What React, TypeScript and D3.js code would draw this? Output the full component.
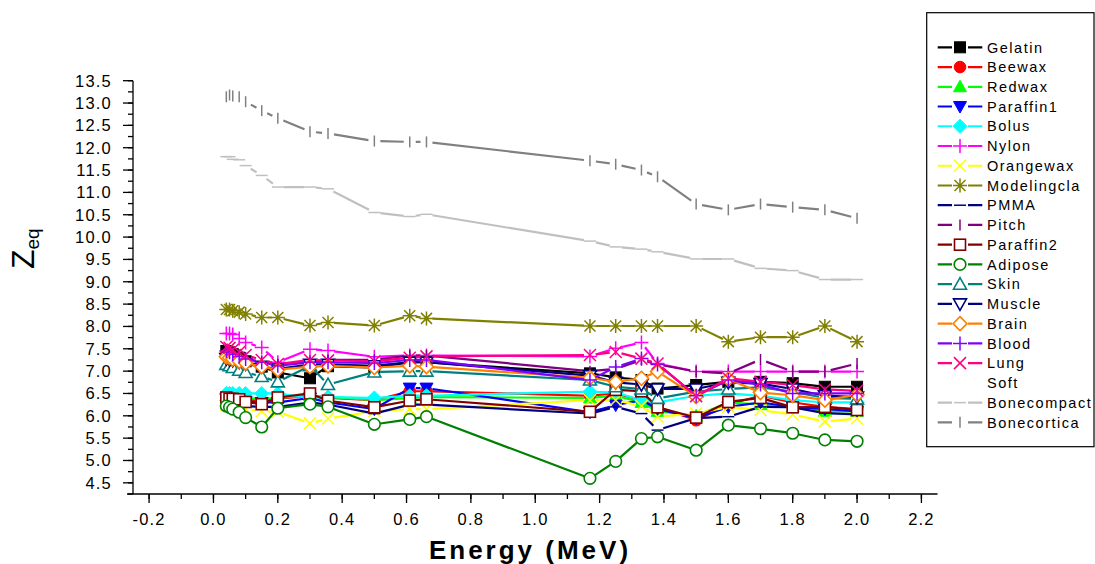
import React from 'react';
import * as d3 from 'd3';

// Photon energies (MeV)
const energy = [0.04, 0.05, 0.06, 0.08, 0.1, 0.15, 0.2, 0.3, 0.356, 0.5, 0.61, 0.662, 1.17, 1.25, 1.33, 1.38, 1.5, 1.6, 1.7, 1.8, 1.9, 2.0];

// Zeq values per material
const gelatin = [7.45, 7.42, 7.38, 7.3, 7.22, 7.1, 6.97, 6.84, 7.11, 7.08, 7.2, 7.2, 6.95, 6.86, 6.8, 6.61, 6.69, 6.76, 6.76, 6.73, 6.65, 6.65];
const beewax = [6.42, 6.42, 6.4, 6.38, 6.36, 6.33, 6.38, 6.45, 6.4, 6.35, 6.55, 6.55, 6.45, 6.5, 6.35, 6.2, 5.9, 6.25, 6.45, 6.3, 6.2, 6.15];
const redwax = [6.45, 6.45, 6.43, 6.42, 6.4, 6.38, 6.4, 6.45, 6.42, 6.35, 6.4, 6.42, 6.4, 6.45, 6.3, 6.1, 6.0, 6.3, 6.25, 6.2, 6.1, 6.1];
const paraffin1 = [6.38, 6.38, 6.36, 6.34, 6.32, 6.3, 6.3, 6.4, 6.3, 6.15, 6.62, 6.62, 6.08, 6.24, 6.35, 6.15, 5.95, 6.2, 6.3, 6.2, 6.15, 6.1];
const bolus = [6.5, 6.5, 6.5, 6.5, 6.5, 6.5, 6.5, 6.4, 6.42, 6.4, 6.45, 6.45, 6.54, 6.52, 6.35, 6.3, 6.45, 6.5, 6.45, 6.35, 6.3, 6.3];
const nylon = [7.84, 7.84, 7.82, 7.73, 7.64, 7.53, 7.2, 7.49, 7.46, 7.32, 7.35, 7.35, 7.33, 7.51, 7.64, 7.17, 6.99, 6.99, 6.99, 6.99, 6.99, 6.99];
const orangewax = [6.25, 6.22, 6.2, 6.18, 6.15, 6.1, 6.09, 5.83, 5.94, 6.1, 6.15, 6.15, 6.35, 6.35, 6.22, 5.98, 6.05, 6.2, 6.13, 6.03, 5.87, 5.94];
const modelingcla = [8.38, 8.38, 8.35, 8.32, 8.28, 8.2, 8.2, 8.02, 8.09, 8.02, 8.24, 8.18, 8.01, 8.01, 8.01, 8.01, 8.01, 7.66, 7.76, 7.76, 8.01, 7.66];
const pmma = [6.3, 6.3, 6.28, 6.25, 6.22, 6.2, 6.2, 6.3, 6.25, 6.05, 6.25, 6.25, 6.05, 6.2, 6.05, 5.68, 5.95, 5.98, 6.2, 6.19, 6.06, 6.03];
const pitch = [7.4, 7.38, 7.36, 7.32, 7.28, 7.2, 7.15, 7.2, 7.25, 7.25, 7.35, 7.35, 7.0, 7.05, 7.25, 7.15, 6.99, 6.95, 7.26, 6.99, 6.99, 7.17];
const paraffin2 = [6.41, 6.38, 6.38, 6.37, 6.31, 6.26, 6.41, 6.5, 6.34, 6.19, 6.34, 6.37, 6.09, 6.58, 6.55, 6.19, 5.96, 6.31, 6.4, 6.19, 6.2, 6.13];
const adipose = [6.22, 6.19, 6.15, 6.08, 5.96, 5.75, 6.17, 6.26, 6.2, 5.81, 5.92, 5.98, 4.6, 4.98, 5.49, 5.53, 5.23, 5.79, 5.71, 5.61, 5.46, 5.43];
const skin = [7.15, 7.12, 7.08, 7.02, 6.97, 6.88, 6.76, 7.12, 6.7, 6.98, 7.0, 7.0, 6.8, 6.65, 6.6, 6.39, 6.54, 6.6, 6.64, 6.54, 6.4, 6.38];
const muscle = [7.28, 7.26, 7.24, 7.2, 7.16, 7.1, 7.05, 7.15, 7.15, 7.12, 7.2, 7.2, 6.9, 6.75, 6.7, 6.6, 6.6, 6.75, 6.72, 6.6, 6.45, 6.42];
const brain = [7.32, 7.3, 7.27, 7.22, 7.18, 7.1, 7.03, 7.1, 7.12, 7.08, 7.12, 7.1, 6.85, 6.76, 6.84, 6.99, 6.43, 6.82, 6.52, 6.46, 6.35, 6.47];
const blood = [7.45, 7.42, 7.38, 7.33, 7.27, 7.2, 7.12, 7.2, 7.2, 7.18, 7.25, 7.25, 6.8, 7.09, 7.28, 7.15, 6.45, 6.8, 6.7, 6.5, 6.5, 6.5];
const lung = [7.54, 7.52, 7.48, 7.43, 7.36, 7.25, 7.16, 7.25, 7.24, 7.22, 7.3, 7.33, 7.36, 7.43, 7.28, 7.17, 6.44, 6.84, 6.76, 6.69, 6.59, 6.56];
const bonecompact = [11.8, 11.8, 11.74, 11.73, 11.6, 11.38, 11.12, 11.12, 11.08, 10.55, 10.46, 10.51, 9.91, 9.78, 9.73, 9.67, 9.51, 9.51, 9.3, 9.25, 9.05, 9.05];
const bonecortica = [13.14, 13.18, 13.16, 13.14, 13.03, 12.83, 12.66, 12.36, 12.32, 12.15, 12.13, 12.13, 11.71, 11.63, 11.5, 11.35, 10.74, 10.61, 10.74, 10.67, 10.61, 10.42];

const xTicks = [-0.2, 0, 0.2, 0.4, 0.6, 0.8, 1.0, 1.2, 1.4, 1.6, 1.8, 2.0, 2.2];
const yTicks = [4.5, 5, 5.5, 6, 6.5, 7, 7.5, 8, 8.5, 9, 9.5, 10, 10.5, 11, 11.5, 12, 12.5, 13, 13.5];

type Marker = 'square' | 'circle' | 'tri' | 'tridown' | 'diamond' | 'plus' | 'cross' | 'star' | 'hbar' | 'vbar' | 'none';

interface Series {
  name: string;
  color: string;
  marker: Marker;
  open?: boolean;
  values: number[] | null;
}

const series: Series[] = [
  { name: 'Gelatin', color: '#000000', marker: 'square', values: gelatin },
  { name: 'Beewax', color: '#ff0000', marker: 'circle', values: beewax },
  { name: 'Redwax', color: '#00ff00', marker: 'tri', values: redwax },
  { name: 'Paraffin1', color: '#0000ff', marker: 'tridown', values: paraffin1 },
  { name: 'Bolus', color: '#00ffff', marker: 'diamond', values: bolus },
  { name: 'Nylon', color: '#ff00ff', marker: 'plus', values: nylon },
  { name: 'Orangewax', color: '#ffff00', marker: 'cross', values: orangewax },
  { name: 'Modelingcla', color: '#808000', marker: 'star', values: modelingcla },
  { name: 'PMMA', color: '#000080', marker: 'hbar', values: pmma },
  { name: 'Pitch', color: '#800080', marker: 'vbar', values: pitch },
  { name: 'Paraffin2', color: '#800000', marker: 'square', open: true, values: paraffin2 },
  { name: 'Adipose', color: '#008000', marker: 'circle', open: true, values: adipose },
  { name: 'Skin', color: '#008080', marker: 'tri', open: true, values: skin },
  { name: 'Muscle', color: '#000080', marker: 'tridown', open: true, values: muscle },
  { name: 'Brain', color: '#ff8000', marker: 'diamond', open: true, values: brain },
  { name: 'Blood', color: '#8000ff', marker: 'plus', values: blood },
  { name: 'Lung', color: '#ff0080', marker: 'cross', values: lung },
  { name: 'Soft', color: 'none', marker: 'none', values: null },
  { name: 'Bonecompact', color: '#c0c0c0', marker: 'hbar', values: bonecompact },
  { name: 'Bonecortica', color: '#808080', marker: 'vbar', values: bonecortica },
];

const x = d3.scaleLinear().domain([-0.25, 2.25]).range([133, 937.5]);
const y = d3.scaleLinear().domain([4.25, 13.5]).range([494, 80.7]);

const FONT = "'Liberation Sans', Arial, sans-serif";
const GAP = 6;

function MarkerShape({ s, cx, cy }: { s: Series; cx: number; cy: number }) {
  const c = s.color;
  const fill = s.open ? '#ffffff' : c;
  const sw = s.open ? 1.6 : 1;
  switch (s.marker) {
    case 'square':
      return <rect x={cx - 5.5} y={cy - 5.5} width={11} height={11} fill={fill} stroke={c} strokeWidth={sw} />;
    case 'circle':
      return <circle cx={cx} cy={cy} r={5.8} fill={fill} stroke={c} strokeWidth={sw} />;
    case 'tri':
      return <path d={`M${cx},${cy - 6.5}L${cx + 6.5},${cy + 5}L${cx - 6.5},${cy + 5}Z`} fill={fill} stroke={c} strokeWidth={sw} />;
    case 'tridown':
      return <path d={`M${cx},${cy + 6.5}L${cx + 6.5},${cy - 5}L${cx - 6.5},${cy - 5}Z`} fill={fill} stroke={c} strokeWidth={sw} />;
    case 'diamond':
      return <path d={`M${cx},${cy - 7}L${cx + 7},${cy}L${cx},${cy + 7}L${cx - 7},${cy}Z`} fill={fill} stroke={c} strokeWidth={sw} />;
    case 'plus':
      return <path d={`M${cx - 7},${cy}H${cx + 7}M${cx},${cy - 7}V${cy + 7}`} stroke={c} strokeWidth={1.5} fill="none" />;
    case 'cross':
      return <path d={`M${cx - 6},${cy - 6}L${cx + 6},${cy + 6}M${cx + 6},${cy - 6}L${cx - 6},${cy + 6}`} stroke={c} strokeWidth={1.5} fill="none" />;
    case 'star':
      return (
        <path
          d={`M${cx - 7},${cy}H${cx + 7}M${cx},${cy - 7}V${cy + 7}M${cx - 5.5},${cy - 5.5}L${cx + 5.5},${cy + 5.5}M${cx + 5.5},${cy - 5.5}L${cx - 5.5},${cy + 5.5}`}
          stroke={c} strokeWidth={1.5} fill="none"
        />
      );
    case 'hbar':
      return <path d={`M${cx - 6},${cy}H${cx + 6}`} stroke={c} strokeWidth={1.5} fill="none" />;
    case 'vbar':
      return <path d={`M${cx},${cy - 5.5}V${cy + 5.5}`} stroke={c} strokeWidth={1.5} fill="none" />;
    default:
      return null;
  }
}

// Origin-style line with a gap around every data point
function gappedPath(pts: [number, number][]) {
  let d = '';
  for (let i = 0; i < pts.length - 1; i++) {
    const [x1, y1] = pts[i];
    const [x2, y2] = pts[i + 1];
    const dx = x2 - x1, dy = y2 - y1;
    const len = Math.hypot(dx, dy);
    if (len <= GAP * 2 + 1) continue;
    const ux = dx / len, uy = dy / len;
    d += `M${x1 + ux * GAP},${y1 + uy * GAP}L${x2 - ux * GAP},${y2 - uy * GAP}`;
  }
  return d;
}

export default function App() {
  const xMinor = d3.range(-0.2, 2.25, 0.1).map(v => +v.toFixed(2));
  const yMinor = d3.range(4.25, 13.51, 0.25).map(v => +v.toFixed(2));
  const legendTop = 47.3;
  const legendStep = 19.74;

  return (
    <svg width={1095} height={564} style={{ position: 'absolute', left: 0, top: 0, background: '#fff' }}>
      <rect width={1095} height={564} fill="#ffffff" />

      {/* data */}
      {series.filter(s => s.values).map(s => {
        const pts = energy.map((e, i) => [x(e), y(s.values![i])] as [number, number]);
        return (
          <g key={s.name}>
            <path d={gappedPath(pts)} stroke={s.color} strokeWidth={2.2} fill="none" />
            {pts.map((p, i) => <MarkerShape key={i} s={s} cx={p[0]} cy={p[1]} />)}
          </g>
        );
      })}

      {/* axes */}
      <g stroke="#000" strokeWidth={1.3}>
        <line x1={133} x2={133} y1={y(13.5)} y2={494} />
        <line x1={127} x2={937.5} y1={494} y2={494} />
        {yMinor.map(v => <line key={'ym' + v} x1={133 - 5} x2={133} y1={y(v)} y2={y(v)} />)}
        {yTicks.map(v => <line key={'yt' + v} x1={133 - 10} x2={133} y1={y(v)} y2={y(v)} />)}
        {xMinor.map(v => <line key={'xm' + v} x1={x(v)} x2={x(v)} y1={494} y2={499} />)}
        {xTicks.map(v => <line key={'xt' + v} x1={x(v)} x2={x(v)} y1={494} y2={503} />)}
      </g>
      <g fontFamily={FONT} fontSize={16.5} fill="#000" letterSpacing={1.2}>
        {yTicks.map(v => (
          <text key={'yl' + v} x={112} y={y(v)} dy="0.36em" textAnchor="end">{v.toFixed(1)}</text>
        ))}
        {xTicks.map(v => (
          <text key={'xl' + v} x={x(v)} y={525} textAnchor="middle">{v.toFixed(1)}</text>
        ))}
      </g>

      {/* axis titles */}
      <text x={530} y={559} textAnchor="middle" fontFamily={FONT} fontWeight="bold" fontSize={26} letterSpacing={3}>
        Energy (MeV)
      </text>
      <text transform="translate(34,269) rotate(-90)" fontFamily={FONT} fontSize={32}>
        Z<tspan fontSize={19} dy={5}>eq</tspan>
      </text>

      {/* legend */}
      <rect x={926.7} y={12.7} width={167.3} height={434} fill="#fff" stroke="#000" strokeWidth={1.2} />
      {series.map((s, i) => {
        const ly = legendTop + i * legendStep;
        return (
          <g key={'lg' + s.name}>
            {s.values && (
              <path d={`M937.7,${ly}H952M968,${ly}H982.3`} stroke={s.color} strokeWidth={2.2} />
            )}
            {s.values && <MarkerShape s={s} cx={960} cy={ly} />}
            <text x={987} y={ly} dy="0.36em" fontFamily={FONT} fontSize={14.5} letterSpacing={1.5}>{s.name}</text>
          </g>
        );
      })}
    </svg>
  );
}
